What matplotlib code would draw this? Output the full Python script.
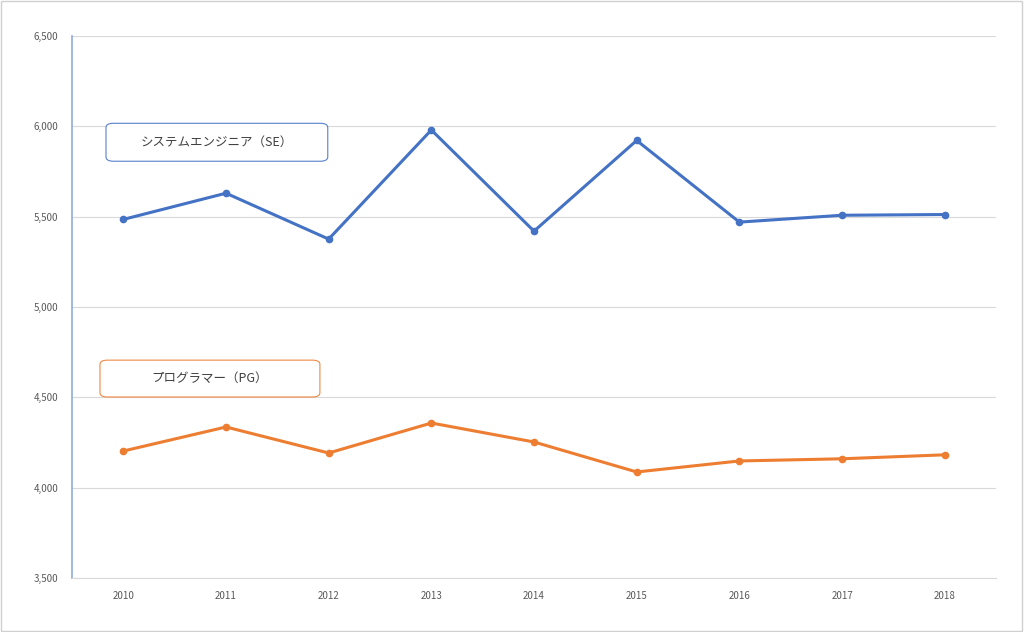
import matplotlib
matplotlib.use("Agg")
import matplotlib.pyplot as plt
from matplotlib.patches import FancyBboxPatch, Rectangle
from matplotlib.ticker import FuncFormatter

plt.rcParams['font.family'] = ['Noto Sans CJK JP', 'DejaVu Sans']

years = ["2010", "2011", "2012", "2013", "2014", "2015", "2016", "2017", "2018"]
se_values = [5485, 5630, 5376, 5980, 5420, 5922, 5470, 5508, 5512]
pg_values = [4203, 4336, 4192, 4358, 4253, 4087, 4148, 4160, 4182]
se_label = "システムエンジニア（SE）"
pg_label = "プログラマー（PG）"

blue = "#4472C4"
orange = "#ED7D31"
grey_text = "#595959"

fig = plt.figure(figsize=(10.24, 6.32), dpi=100)
ax = fig.add_axes([0.0703, 0.0854, 0.9024, 0.8576])

x = list(range(len(years)))
ax.plot(x, se_values, color=blue, lw=2.2, marker='o', ms=4.5, zorder=3)
ax.plot(x, pg_values, color=orange, lw=2.2, marker='o', ms=4.5, zorder=3)

ax.set_xlim(-0.5, len(years) - 0.5)
ax.set_ylim(3500, 6500)
ax.set_yticks(range(3500, 6501, 500))
ax.yaxis.set_major_formatter(FuncFormatter(lambda v, p: f"{int(v):,}"))
ax.set_xticks(x)
ax.set_xticklabels(years)
ax.tick_params(axis='both', length=0, labelsize=7, labelcolor=grey_text)
ax.tick_params(axis='x', pad=9)
ax.tick_params(axis='y', pad=10)
ax.grid(axis='y', color="#D9D9D9", lw=0.8)
ax.set_axisbelow(True)
for s in ['top', 'right']:
    ax.spines[s].set_visible(False)
ax.spines['bottom'].set_color("#D9D9D9")
ax.spines['left'].set_color("#8FAADC")
ax.spines['left'].set_linewidth(1.2)

# label boxes
for (x0, y0, w, h, col, txt) in [(0.0368, 0.769, 0.240, 0.070, blue, se_label),
                                  (0.0303, 0.334, 0.238, 0.068, orange, pg_label)]:
    box = FancyBboxPatch((x0, y0), w, h, boxstyle="round,pad=0,rounding_size=0.008",
                         transform=ax.transAxes, facecolor="white", edgecolor=col,
                         lw=0.8, alpha=0.9, zorder=4)
    ax.add_patch(box)
    ax.text(x0 + w / 2, y0 + h / 2, txt, transform=ax.transAxes, ha='center',
            va='center', fontsize=9, color="#404040", zorder=5)

fig.patches.append(Rectangle((0.001, 0.001), 0.997, 0.997, transform=fig.transFigure,
                             fill=False, edgecolor="#D0D0D0", lw=1))

fig.savefig("out.png", dpi=100)
